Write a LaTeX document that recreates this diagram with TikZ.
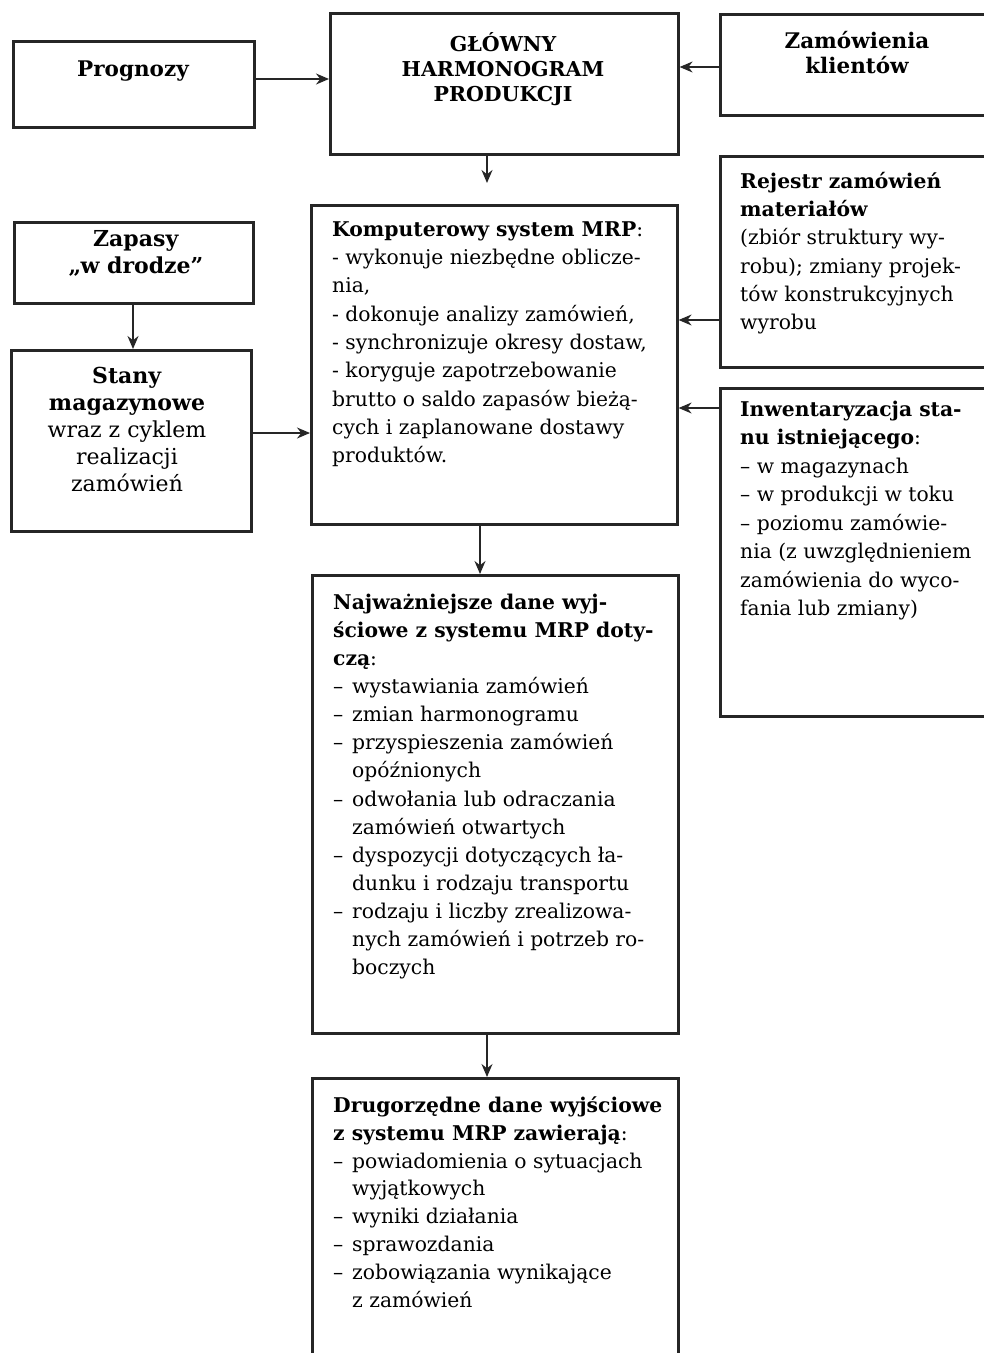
\documentclass[tikz,border=0pt]{standalone}
\usepackage{fontspec}
\setmainfont{DejaVu Serif}
\usetikzlibrary{arrows.meta}
\newcommand\mydash{\makebox[19pt][l]{–}}
\newcommand\myind{\hspace*{19pt}}
\begin{document}
\begin{tikzpicture}[x=1pt,y=-1pt,
  box/.style={draw=black!85, line width=2.6pt, inner sep=0pt, anchor=north west},
  arr/.style={draw=black!85, line width=1.3pt, -{Stealth[length=13pt,width=11pt]}},
  txt/.style={inner sep=0pt, align=left, anchor=north west, text=black},
  ctr/.style={inner sep=0pt, align=center, anchor=north, text=black}]
\useasboundingbox (0,0) rectangle (984,1353);
\clip (0,0) rectangle (984,1353);
% boxes
\node[box, minimum width=241pt, minimum height=86pt] (prog) at (12,40) {};
\node[box, minimum width=348pt, minimum height=141pt] (glowny) at (329,12) {};
\node[box, minimum width=290pt, minimum height=101pt] (klient) at (719,13) {};
\node[box, minimum width=290pt, minimum height=211pt] (rejestr) at (719,155) {};
\node[box, minimum width=290pt, minimum height=328pt] (inwent) at (719,387) {};
\node[box, minimum width=239pt, minimum height=81pt] (zapasy) at (13,221) {};
\node[box, minimum width=240pt, minimum height=181pt] (stany) at (10,349) {};
\node[box, minimum width=366pt, minimum height=319pt] (mrp) at (310,204) {};
\node[box, minimum width=366pt, minimum height=458pt] (najw) at (311,574) {};
\node[box, minimum width=366pt, minimum height=320pt] (drugo) at (311,1077) {};
% texts
\node[ctr, font=\fontsize{21.5}{24.5}\selectfont\bfseries] (progT) at (133,59.5) {\strut Prognozy};
\node[ctr, font=\fontsize{20.5}{25}\selectfont\bfseries] (glownyT) at (503,32) {\strut GŁÓWNY\\HARMONOGRAM\\PRODUKCJI};
\node[ctr, font=\fontsize{21.5}{25}\selectfont\bfseries] (klientT) at (857,31) {\strut Zamówienia\\klientów};
\node[ctr, font=\fontsize{22}{26.5}\selectfont] (zapasyT) at (136,228.2) {\strut\textbf{Zapasy}\\\textbf{„w drodze”}};
\node[ctr, font=\fontsize{22}{27}\selectfont] (stanyT) at (127,364.1) {\strut\textbf{Stany}\\\textbf{magazynowe}\\wraz z cyklem\\realizacji\\zamówień};
\node[txt, font=\fontsize{20.3}{28.3}\selectfont] (mrpT) at (332,216.2) {\strut\textbf{Komputerowy system MRP}:\\
- wykonuje niezbędne oblicze-\\
nia,\\
- dokonuje analizy zamówień,\\
- synchronizuje okresy dostaw,\\
- koryguje zapotrzebowanie\\
brutto o saldo zapasów bieżą-\\
cych i zaplanowane dostawy\\
produktów.};
\node[txt, font=\fontsize{20.3}{28.3}\selectfont] (rejestrT) at (740,168.2) {\strut\textbf{Rejestr zamówień}\\
\textbf{materiałów}\\
(zbiór struktury wy-\\
robu); zmiany projek-\\
tów konstrukcyjnych\\
wyrobu};
\node[txt, font=\fontsize{20.3}{28.5}\selectfont] (inwentT) at (740,396) {\strut\textbf{Inwentaryzacja sta-}\\
\textbf{nu istniejącego}:\\
– w magazynach\\
– w produkcji w toku\\
– poziomu zamówie-\\
nia (z uwzględnieniem\\
zamówienia do wyco-\\
fania lub zmiany)};
\node[txt, font=\fontsize{20.3}{28.1}\selectfont] (najwT) at (333,589.5) {\strut\textbf{Najważniejsze dane wyj-}\\
\textbf{ściowe z systemu MRP doty-}\\
\textbf{czą}:\\
\mydash wystawiania zamówień\\
\mydash zmian harmonogramu\\
\mydash przyspieszenia zamówień\\
\myind opóźnionych\\
\mydash odwołania lub odraczania\\
\myind zamówień otwartych\\
\mydash dyspozycji dotyczących ła-\\
\myind dunku i rodzaju transportu\\
\mydash rodzaju i liczby zrealizowa-\\
\myind nych zamówień i potrzeb ro-\\
\myind boczych};
\node[txt, font=\fontsize{20.3}{27.9}\selectfont] (drugoT) at (333,1092.5) {\strut\textbf{Drugorzędne dane wyjściowe}\\
\textbf{z systemu MRP zawierają}:\\
\mydash powiadomienia o sytuacjach\\
\myind wyjątkowych\\
\mydash wyniki działania\\
\mydash sprawozdania\\
\mydash zobowiązania wynikające\\
\myind z zamówień};
% connectors
\coordinate (a1) at (prog.east |- 0,79);
\draw[arr] (a1) -- (a1 -| glowny.west);
\coordinate (a2) at (klient.west |- 0,67);
\draw[arr] (a2) -- (a2 -| glowny.east);
\coordinate (a3) at (glowny.south -| 487,0);
\coordinate (a3e) at (487,183);
\draw[arr] (a3) -- (a3e);
\coordinate (a4) at (rejestr.west |- 0,320);
\draw[arr] (a4) -- (a4 -| mrp.east);
\coordinate (a5) at (inwent.west |- 0,408);
\draw[arr] (a5) -- (a5 -| mrp.east);
\coordinate (a6) at (zapasy.south -| 133,0);
\draw[arr] (a6) -- (a6 |- stany.north);
\coordinate (a7) at (stany.east |- 0,433);
\draw[arr] (a7) -- (a7 -| mrp.west);
\coordinate (a8) at (mrp.south -| 480,0);
\draw[arr] (a8) -- (a8 |- najw.north);
\coordinate (a9) at (najw.south -| 487,0);
\draw[arr] (a9) -- (a9 |- drugo.north);
\end{tikzpicture}
\end{document}
